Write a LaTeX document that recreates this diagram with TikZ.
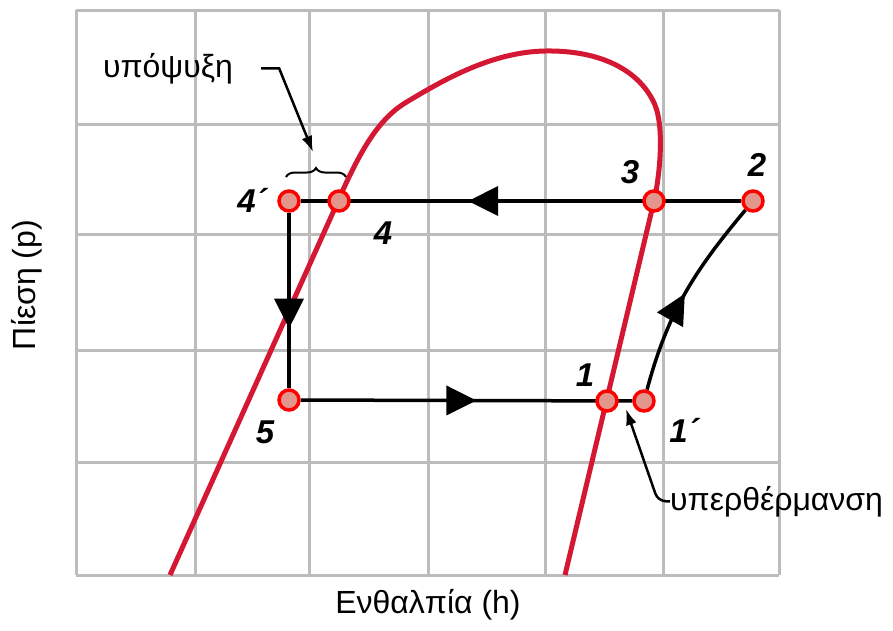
\documentclass[tikz,border=0pt]{standalone}
\usepackage{fontspec}
\setmainfont{Liberation Sans}
\usetikzlibrary{arrows.meta,decorations.markings,decorations.pathreplacing,backgrounds}
\definecolor{curvered}{RGB}{212,24,52}
\definecolor{gridgray}{RGB}{188,188,188}
\definecolor{dotfill}{RGB}{226,150,140}
\tikzset{
  gridline/.style={gridgray,line width=3pt},
  satcurve/.style={curvered,line width=5pt},
  cycleline/.style={line width=3.5pt},
  statept/.style={circle,draw=red,line width=3.5pt,fill=dotfill,minimum size=20pt,inner sep=0pt},
  statelab/.style={font=\fontsize{33}{38}\selectfont\bfseries\itshape},
  axislab/.style={font=\fontsize{32}{38}\selectfont},
  notelab/.style={font=\fontsize{32}{38}\selectfont,inner sep=0pt},
  leader/.style={line width=2.5pt,-{Latex[length=16pt,width=11pt]}},
  midarrow/.style={postaction={decorate},decoration={markings,
    mark=at position #1 with {\arrow{Triangle[length=30pt,width=29pt]}}}}
}
\begin{document}
\begin{tikzpicture}[x=1pt,y=-1pt]
  \useasboundingbox (0,0) rectangle (893,630);
  % state points of the cycle
  \foreach \n/\px/\py in {p4a/289/201,p4/339/201,p3/654/201,p2/753/201,p5/289/400,p1/607/401,p1a/644/401}
    \node[statept] (\n) at (\px,\py) {};
  \node[statelab] (l4a) at (252,200) {4´};
  \node[statelab] (l4) at (383,233) {4};
  \node[statelab] (l3) at (630,172) {3};
  \node[statelab] (l2) at (757,165) {2};
  \node[statelab] (l1) at (585,375) {1};
  \node[statelab] (l1a) at (684,430) {1´};
  \node[statelab] (l5) at (265,432) {5};
  % axes
  \node[axislab,rotate=90] (pressure) at (27,285) {Πίεση (p)};
  \node[axislab] (enthalpy) at (428,605) {Ενθαλπία (h)};
  % notes
  \node[notelab,anchor=base] (subcool) at (168,77) {υπόψυξη};
  \node[notelab,anchor=base west] (superheat) at (670,510) {υπερθέρμανση};
  \coordinate (bracetip) at (313,152);
  \coordinate (heattip) at (626,409);
  \draw[line width=2pt,decorate,decoration={brace,amplitude=9pt}] (286,177) -- (346,177);
  \draw[leader] ([xshift=28pt]subcool.east) -- ++(18,0) -- (bracetip);
  \draw[leader,rounded corners=8pt] (superheat.west) -- ++(-12,0) -- (heattip);
  \begin{scope}[on background layer]
    \foreach \gx in {76,195,309,428,545,663,779}
      \draw[gridline] (\gx,10) -- (\gx,575);
    \foreach \gy in {10,124,234,350,462,575}
      \draw[gridline] (76,\gy) -- (779,\gy);
    % saturation dome
    \draw[satcurve] (170,575) -- (335,208) .. controls (360,150) and (378,120) .. (405,103)
      .. controls (440,82) and (490,52) .. (545,51) .. controls (600,50) and (640,70) .. (655,105)
      .. controls (665,130) and (659,180) .. (654,201) -- (565,575);
    % refrigeration cycle
    \draw[cycleline,midarrow=0.62] (p2) -- (p4a);
    \draw[cycleline,midarrow=0.66] (p4a) -- (p5);
    \draw[cycleline,midarrow=0.53] (p5) -- (p1a);
    \draw[cycleline,midarrow=0.5] (p1a) to[out=75,in=-130] (p2);
  \end{scope}
\end{tikzpicture}
\end{document}
